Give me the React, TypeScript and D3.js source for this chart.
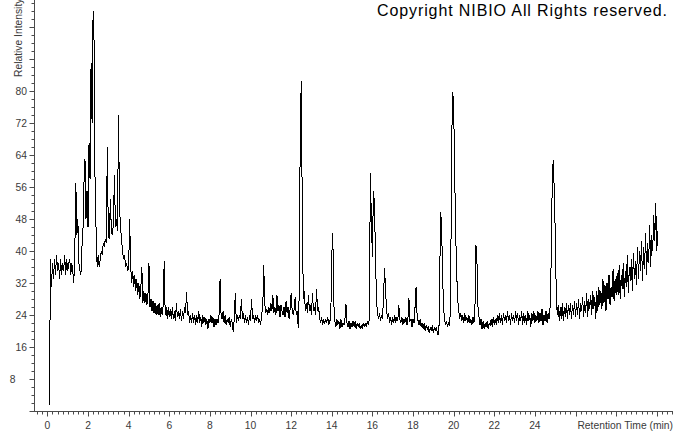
import React from "react";
import * as d3 from "d3";

// detector sampling: first reading at 0.1 min, one reading every 0.05 min
const startTime = 0.1;
const sampleStep = 0.05;

// relative intensity, one row per minute (20 readings)
const intensity: number[] = [
  1.5, 38, 31, 37, 33, 38, 34, 39, 35, 37, 33, 38, 34, 37, 35, 39, 34, 38, 35, 37,
  38, 34, 37, 35, 32, 40, 57, 44, 48, 37, 35, 34, 41, 45, 57, 63, 48, 55, 46, 67,
  58, 87, 72, 100, 92, 54, 45, 36, 39, 36, 38, 40, 39, 42, 41, 43, 42, 66, 44, 43,
  53, 45, 44, 47, 59, 46, 48, 45, 74, 51, 46, 43, 40, 38, 39, 36, 37, 35, 36, 48,
  36, 32, 35, 31, 34, 30, 33, 29, 32, 28, 31, 36, 27, 30, 27, 29.5, 26.5, 29, 37, 26,
  28, 25, 27.5, 24.5, 27, 24, 26.5, 24, 27, 23.5, 26, 24, 26.5, 37.5, 24, 26, 23, 26, 23.5, 25.5,
  23, 26, 23, 25, 22.5, 27, 23.5, 25, 23, 25.5, 22.5, 25, 23, 26, 24.5, 29.8, 24, 25, 22, 24,
  22, 24.5, 22, 24, 21.5, 24, 22, 25, 22, 23.5, 21, 24, 22, 23.5, 21.5, 23, 20.5, 23, 22, 24,
  22, 23.5, 21, 23, 21.5, 23, 22, 24, 33, 24, 23, 25, 22, 24, 21.5, 23, 22, 23.5, 21, 23,
  22, 19.7, 23, 29.5, 22, 24, 22.5, 24, 23, 28, 23, 24.5, 22, 24, 22, 23.5, 21.5, 24, 22.5, 28,
  23, 24, 22, 24, 22.5, 24, 22, 23, 21.5, 24.5, 25, 36.5, 27, 24.5, 25.5, 24, 26, 24.5, 27, 25,
  29, 24.5, 26, 24, 29, 25, 26.5, 23.5, 26.5, 25, 24, 26, 23.5, 27.5, 24.5, 26, 23, 25.5, 29.5, 25,
  24, 25.5, 28.5, 24, 25, 20.7, 30, 72, 82.5, 48, 28, 30, 25, 27, 24.5, 29, 25, 26.5, 24, 29.5,
  25, 26, 24, 30.5, 25, 26, 23.5, 22, 23.5, 21.5, 23, 21.7, 23, 22, 23.5, 21.5, 22.5, 23, 39, 44.6,
  27, 22.5, 21, 23, 21.5, 22.5, 20.5, 23, 21, 22, 21.5, 23, 26.7, 22, 21, 22.5, 20.5, 22, 21, 22.5,
  21, 22.5, 20.5, 22, 21, 22, 20.5, 21.5, 20.5, 22, 21, 22, 21, 22.5, 21.5, 23, 59.4, 48, 38.6, 55,
  52, 40, 28, 24.5, 23, 24.5, 22.5, 24, 23, 29, 35.7, 30, 25, 23, 24.5, 22, 23.5, 21.5, 23.5, 22,
  24, 22, 23.5, 22.5, 26.5, 23, 22, 23.5, 21.5, 23, 22, 23.5, 21.5, 23, 28.2, 22.5, 23, 21, 23, 22,
  26, 31, 24, 22.5, 21.5, 23, 21, 22, 20.5, 22, 20, 21.5, 20.5, 21, 19.5, 21, 20, 21.5, 19.5, 21,
  20, 21, 19.5, 18.9, 23, 49.8, 47.7, 36, 26, 23, 21.5, 22.5, 21, 22, 21.5, 26, 66, 79.8, 77, 60,
  45, 34.5, 28, 25, 23, 24.5, 22.5, 24, 22, 24.5, 22.5, 23.5, 22, 24, 22, 23, 21.5, 23.5, 22, 26,
  41.5, 37, 26, 23.5, 21.5, 23, 20.5, 22.5, 20.5, 22, 21, 22.5, 20.5, 22, 21.5, 23, 21, 23.5, 21.5, 23,
  21.5, 24, 22, 24.5, 22, 24, 21.5, 24.5, 22.5, 24, 22, 25, 22.5, 24, 21.5, 24.5, 22.5, 24, 22, 25,
  22.5, 24.5, 21.5, 24, 22.5, 25, 21.5, 24.5, 22, 24, 21.5, 25, 22.5, 24, 21, 24.5, 22.5, 25, 22, 24,
  22.5, 25, 22, 24.5, 22.5, 25.5, 21.5, 24, 22.5, 25, 22, 24.5, 23, 26, 37, 55.7, 62.7, 56, 45, 30,
  24, 26.5, 22.5, 26, 23, 27, 22.5, 26, 23.5, 27, 23, 26.5, 24, 27, 23, 26.5, 24, 27.5, 23.5, 27,
  24, 28, 23, 27, 25, 28.5, 23.5, 27.5, 24.5, 29.5, 23.5, 28, 25.5, 29, 24, 30, 25.5, 28.5, 23, 30,
  25, 31, 26.5, 30, 25.5, 33, 27, 31.5, 25, 32, 28, 34, 26.5, 31, 28.5, 35.5, 27.5, 33, 29, 34.5,
  29, 36.5, 28, 34, 30.5, 37, 28.5, 35, 31, 39, 29.5, 36, 32.5, 38, 30, 39.5, 33, 37.5, 31.5, 41,
  33, 40, 35, 42.5, 32.5, 41, 35.5, 44.5, 34, 42, 37, 46.5, 36, 44, 40, 49, 42.5, 52, 40, 45,
];

const xTickLabels = [0, 2, 4, 6, 8, 10, 12, 14, 16, 18, 20, 22, 24];
const yTickLabels = [8, 16, 24, 32, 40, 48, 56, 64, 72, 80];
const xTitle = "Retention Time (min)";
const yTitle = "Relative Intensity";
const copyright = "Copyright NIBIO All Rights reserved.";

const W = 674;
const H = 434;
const font = "'Liberation Sans', Arial, sans-serif";

export default function App() {
  const x = d3.scaleLinear().domain([-0.66, 30.8]).range([34, 673]);
  const y = d3.scaleLinear().domain([0, 102.75]).range([411, 0]);

  const points: [number, number][] = intensity.map((v, i) => [startTime + i * sampleStep, v]);
  const line = d3
    .line<[number, number]>()
    .x((d) => x(d[0]))
    .y((d) => y(d[1]));

  const xMinor = d3.range(-0.5, 30.8, 0.25);
  const yMinor = d3.range(0, 103, 2);
  const axisColor = "#4a4a4a";
  const labelColor = "#3a3a3a";

  return (
    <svg
      width={W}
      height={H}
      style={{ position: "absolute", left: 0, top: 0, background: "#fff" }}
      fontFamily={font}
    >
      <text x={377} y={16} fontSize={16} textLength={290} lengthAdjust="spacing" fill="#000">
        {copyright}
      </text>

      <text transform="translate(21.5,77) rotate(-90)" fontSize={10.3} fill={labelColor}>
        {yTitle}
      </text>

      {/* y axis */}
      <line x1={34.5} x2={34.5} y1={0} y2={411.5} stroke={axisColor} />
      {yMinor.map((v) => (
        <line
          key={"ym" + v}
          x1={34.5 - (v % 8 === 0 ? 5 : 3)}
          x2={34.5}
          y1={Math.round(y(v)) + 0.5}
          y2={Math.round(y(v)) + 0.5}
          stroke={axisColor}
        />
      ))}
      {yTickLabels.map((v) => (
        <text
          key={"yl" + v}
          x={v < 10 ? 15.5 : 27}
          y={y(v)}
          dy="0.35em"
          textAnchor="end"
          fontSize={10.3}
          fill={labelColor}
        >
          {v}
        </text>
      ))}

      {/* x axis */}
      <line x1={34} x2={673} y1={411.5} y2={411.5} stroke={axisColor} />
      {xMinor.map((v) => (
        <line
          key={"xm" + v}
          x1={Math.round(x(v)) + 0.5}
          x2={Math.round(x(v)) + 0.5}
          y1={411.5}
          y2={411.5 + (Math.abs(v % 2) < 1e-6 ? 5 : 3)}
          stroke={axisColor}
        />
      ))}
      {xTickLabels.map((v) => (
        <text key={"xl" + v} x={x(v)} y={429} textAnchor="middle" fontSize={10.3} fill={labelColor}>
          {v}
        </text>
      ))}
      <text x={673} y={429} textAnchor="end" fontSize={10.3} fill={labelColor}>
        {xTitle}
      </text>

      <path
        d={line(points) ?? ""}
        fill="none"
        stroke="#000"
        strokeWidth={1}
        shapeRendering="crispEdges"
      />
    </svg>
  );
}
